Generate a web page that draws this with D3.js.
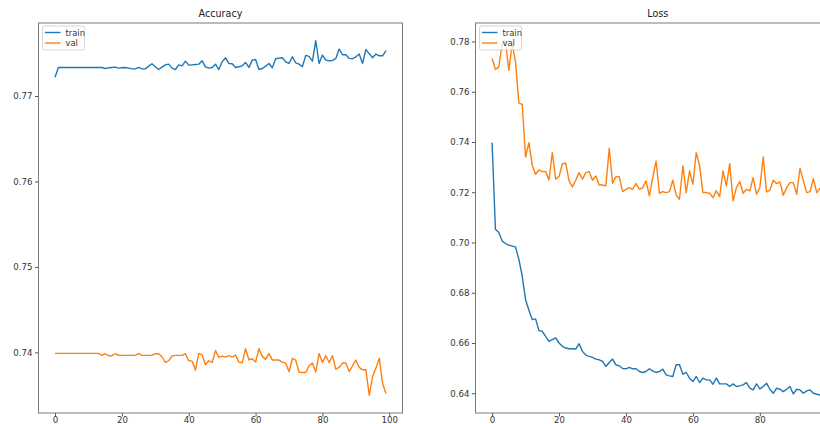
<!DOCTYPE html>
<html>
<head>
<meta charset="utf-8">
<script src="https://cdn.jsdelivr.net/npm/d3@7"></script>
<style>
  html, body { margin: 0; padding: 0; background: #fff; overflow: hidden; }
  svg { display: block; font-family: "DejaVu Sans", sans-serif; }
</style>
</head>
<body>
<svg id="chart" width="820" height="424"></svg>
<script>
// epochs 0..99
var epochs = d3.range(100);

var accTrain = [
  0.77220, 0.77334, 0.77334, 0.77334, 0.77334, 0.77334, 0.77334, 0.77334, 0.77334, 0.77334,
  0.77334, 0.77334, 0.77334, 0.77334, 0.77334, 0.77322, 0.77330, 0.77334, 0.77338, 0.77326,
  0.77330, 0.77334, 0.77326, 0.77318, 0.77318, 0.77334, 0.77318, 0.77318, 0.77349, 0.77377,
  0.77342, 0.77310, 0.77338, 0.77365, 0.77373, 0.77326, 0.77310, 0.77365, 0.77353, 0.77408,
  0.77361, 0.77365, 0.77369, 0.77373, 0.77412, 0.77342, 0.77326, 0.77334, 0.77373, 0.77310,
  0.77400, 0.77447, 0.77381, 0.77377, 0.77334, 0.77342, 0.77353, 0.77393, 0.77334, 0.77420,
  0.77428, 0.77310, 0.77322, 0.77349, 0.77381, 0.77330, 0.77436, 0.77444, 0.77447, 0.77400,
  0.77381, 0.77459, 0.77389, 0.77373, 0.77342, 0.77475, 0.77463, 0.77408, 0.77647, 0.77381,
  0.77479, 0.77420, 0.77412, 0.77416, 0.77440, 0.77549, 0.77483, 0.77483, 0.77440, 0.77436,
  0.77459, 0.77491, 0.77381, 0.77545, 0.77494, 0.77447, 0.77491, 0.77471, 0.77471, 0.77530
];

var accVal = [
  0.73988, 0.73988, 0.73988, 0.73988, 0.73988, 0.73988, 0.73988, 0.73988, 0.73988, 0.73988,
  0.73988, 0.73988, 0.73988, 0.73988, 0.73965, 0.73984, 0.73961, 0.73961, 0.73984, 0.73965,
  0.73965, 0.73965, 0.73965, 0.73965, 0.73965, 0.73984, 0.73965, 0.73965, 0.73965, 0.73965,
  0.73984, 0.73984, 0.73949, 0.73882, 0.73902, 0.73957, 0.73965, 0.73965, 0.73965, 0.73984,
  0.73902, 0.73898, 0.73792, 0.73988, 0.73969, 0.73855, 0.73902, 0.73882, 0.74020, 0.73941,
  0.73957, 0.73945, 0.73961, 0.73945, 0.73969, 0.73886, 0.73878, 0.74043, 0.73914, 0.73925,
  0.73886, 0.74043, 0.73953, 0.73918, 0.73988, 0.73910, 0.73910, 0.73910, 0.73886, 0.73875,
  0.73773, 0.73929, 0.73910, 0.73769, 0.73765, 0.73765, 0.73843, 0.73875, 0.73769, 0.73988,
  0.73882, 0.73961, 0.73882, 0.73961, 0.73804, 0.73824, 0.73875, 0.73875, 0.73776, 0.73843,
  0.73910, 0.73824, 0.73796, 0.73796, 0.73498, 0.73718, 0.73816, 0.73933, 0.73635, 0.73518
];

var lossTrain = [
  0.73974, 0.70530, 0.70397, 0.70066, 0.69960, 0.69894, 0.69854, 0.69828, 0.69338, 0.68667,
  0.67733, 0.67307, 0.66933, 0.66960, 0.66493, 0.66467, 0.66267, 0.66067, 0.66133, 0.66200,
  0.66000, 0.65867, 0.65800, 0.65773, 0.65773, 0.65760, 0.65973, 0.65667, 0.65520, 0.65467,
  0.65427, 0.65360, 0.65333, 0.65267, 0.65067, 0.65227, 0.65360, 0.65133, 0.65093, 0.64987,
  0.64973, 0.65027, 0.64973, 0.64973, 0.64867, 0.64827, 0.64867, 0.64973, 0.64893, 0.64827,
  0.64867, 0.64960, 0.64733, 0.64693, 0.64667, 0.65133, 0.65133, 0.64760, 0.64827, 0.64600,
  0.64467, 0.64667, 0.64427, 0.64600, 0.64533, 0.64533, 0.64360, 0.64600, 0.64373, 0.64373,
  0.64373, 0.64267, 0.64373, 0.64267, 0.64293, 0.64333, 0.64427, 0.64200, 0.64133, 0.64373,
  0.64173, 0.64267, 0.64400, 0.64160, 0.64000, 0.64200, 0.64160, 0.64067, 0.64160, 0.64267,
  0.63973, 0.64160, 0.64133, 0.64000, 0.64093, 0.64133, 0.64000, 0.63960, 0.63933, 0.63920
];

var lossVal = [
  0.77320, 0.76890, 0.76980, 0.77900, 0.78030, 0.76850, 0.77900, 0.77190, 0.75550, 0.75500,
  0.73404, 0.73974, 0.73073, 0.72715, 0.72887, 0.72821, 0.72821, 0.72490, 0.73576, 0.72517,
  0.72623, 0.73139, 0.73152, 0.72450, 0.72212, 0.72477, 0.72781, 0.72517, 0.72781, 0.72821,
  0.72477, 0.72649, 0.72291, 0.72291, 0.72252, 0.73748, 0.72358, 0.72623, 0.72623, 0.72026,
  0.72119, 0.72185, 0.72119, 0.72344, 0.72119, 0.72185, 0.72450, 0.71854, 0.72583, 0.73245,
  0.71960, 0.72026, 0.71987, 0.72026, 0.72477, 0.71894, 0.71722, 0.73046, 0.71987, 0.72848,
  0.72318, 0.73576, 0.73046, 0.71987, 0.71987, 0.71960, 0.71788, 0.72053, 0.71828, 0.72848,
  0.72252, 0.73139, 0.71656, 0.72185, 0.72424, 0.71960, 0.72119, 0.72053, 0.72583, 0.71921,
  0.72185, 0.73404, 0.72013, 0.72079, 0.72477, 0.72344, 0.72411, 0.71881, 0.72185, 0.72384,
  0.72384, 0.71921, 0.72954, 0.72450, 0.71987, 0.72026, 0.72543, 0.71987, 0.72159, 0.72150
];

var seriesNames = ["train", "val"];
var seriesColors = ["#1f77b4", "#ff7f0e"];

var accYTicks = [0.74, 0.75, 0.76, 0.77];
var lossYTicks = [0.64, 0.66, 0.68, 0.70, 0.72, 0.74, 0.76, 0.78];
var accXTicks = [0, 20, 40, 60, 80, 100];
var lossXTicks = [0, 20, 40, 60, 80]; // 100 falls past the window edge

var svg = d3.select("#chart");

// draws one subplot, box given in pixels
function drawPanel(id, title, box, train, val, yTicks, xTicks) {
  var g = svg.append("g").attr("transform", "translate(" + box.left + "," + box.top + ")");
  var w = box.width, h = box.height;

  var x = d3.scaleLinear().domain([-4.95, 103.95]).range([0, w]);
  var lo = d3.min(train.concat(val)), hi = d3.max(train.concat(val));
  var pad = (hi - lo) * 0.05;
  var y = d3.scaleLinear().domain([lo - pad, hi + pad]).range([h, 0]);

  g.append("clipPath").attr("id", "clip-" + id)
    .append("rect").attr("width", w).attr("height", h);

  var line = d3.line().x(function(d, i) { return x(epochs[i]); }).y(function(d) { return y(d); });

  var plot = g.append("g").attr("clip-path", "url(#clip-" + id + ")");
  [train, val].forEach(function(s, k) {
    plot.append("path").datum(s)
      .attr("d", line)
      .attr("fill", "none")
      .attr("stroke", seriesColors[k])
      .attr("stroke-width", 1.4)
      .attr("stroke-linejoin", "round");
  });

  var xAxis = g.append("g").attr("transform", "translate(0," + h + ")")
    .call(d3.axisBottom(x).tickValues(xTicks).tickFormat(d3.format("d")).tickSize(3.5).tickPadding(0.5).tickSizeOuter(0));
  var yAxis = g.append("g")
    .call(d3.axisLeft(y).tickValues(yTicks).tickFormat(d3.format(".2f")).tickSize(3.5).tickPadding(2.5).tickSizeOuter(0));
  [xAxis, yAxis].forEach(function(a) {
    a.select(".domain").remove();
    a.selectAll("line").attr("stroke", "#555");
    a.selectAll("text").attr("fill", "#333").style("font-size", "8.6px").style("font-family", "DejaVu Sans, sans-serif");
  });

  // frame
  g.append("rect").attr("width", w).attr("height", h)
    .attr("fill", "none").attr("stroke", "#7a7a7a").attr("stroke-width", 1);

  g.append("text").attr("x", w / 2).attr("y", -6)
    .attr("text-anchor", "middle").attr("fill", "#222")
    .style("font-size", "9.6px").text(title);

  // legend
  var lg = g.append("g").attr("transform", "translate(4,3)");
  lg.append("rect").attr("width", 42).attr("height", 24).attr("rx", 2)
    .attr("fill", "#fff").attr("fill-opacity", 0.8).attr("stroke", "#ccc").attr("stroke-width", 0.8);
  seriesNames.forEach(function(name, k) {
    var yy = 6.5 + k * 10.5;
    lg.append("line").attr("x1", 2.5).attr("x2", 18).attr("y1", yy).attr("y2", yy)
      .attr("stroke", seriesColors[k]).attr("stroke-width", 1.4);
    lg.append("text").attr("x", 23).attr("y", yy + 3).attr("fill", "#333")
      .style("font-size", "8.4px").text(name);
  });
}

drawPanel("acc", "Accuracy", {left: 38.5, top: 23, width: 364, height: 390}, accTrain, accVal, accYTicks, accXTicks);
drawPanel("loss", "Loss", {left: 475.5, top: 23, width: 364.5, height: 390}, lossTrain, lossVal, lossYTicks, lossXTicks);
</script>
</body>
</html>
